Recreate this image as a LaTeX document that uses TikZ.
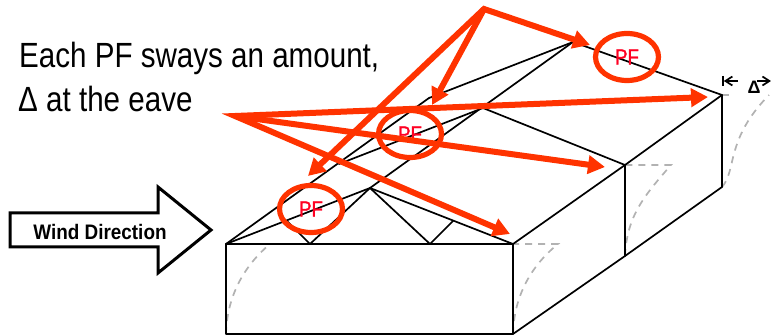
\documentclass[tikz,border=0pt]{standalone}
\usepackage{fontspec}
\setmainfont{Liberation Sans}
\newfontfamily\headf[FakeStretch=0.845]{Liberation Sans}
\newfontfamily\windf[FakeStretch=0.9]{Liberation Sans Bold}
\newfontfamily\pff[FakeStretch=0.85,FakeBold=1.2]{Liberation Sans}
\usetikzlibrary{arrows.meta,shapes.geometric}
\definecolor{redline}{HTML}{FF3300}
\definecolor{redtext}{HTML}{FF0022}
\tikzset{
  frameline/.style={draw=black,line width=1.7pt,line join=round,line cap=round},
  sway/.style={draw=black!30,line width=1.7pt,dash pattern=on 7pt off 6pt},
  pointer/.style={draw=redline,line width=6pt,line join=miter,miter limit=30,
    {Triangle[length=17pt,width=18pt,fill=redline]}-{Triangle[length=17pt,width=18pt,fill=redline]}},
  pointerone/.style={draw=redline,line width=6pt,
    -{Triangle[length=17pt,width=18pt,fill=redline]}},
  pfmark/.style={shape=ellipse,draw=redline,line width=5.2pt,minimum width=63pt,minimum height=47pt,
    inner sep=0pt,text=redtext,font=\pff\fontsize{22}{22}\selectfont},
  gaparrow/.style={draw=black,line width=1.7pt,-{Straight Barb[length=7pt,width=9pt,line width=1.7pt]}},
  headline/.style={anchor=west,inner sep=0pt,font=\headf\fontsize{35}{35}\selectfont},
}
\begin{document}
\begin{tikzpicture}[x=1pt,y=-1pt]
\useasboundingbox (0,0) rectangle (771,336);
% frame coordinates
\coordinate (fl) at (226,244); \coordinate (fa) at (370,188); \coordinate (fr) at (513,244);
\coordinate (fbl) at (226,334); \coordinate (fbr) at (513,334);
\coordinate (ml) at (339,164); \coordinate (ma) at (483,108); \coordinate (mr) at (625,165); \coordinate (mb) at (625,256);
\coordinate (bl) at (429,98); \coordinate (ba) at (573,42); \coordinate (br) at (722,95); \coordinate (bb) at (722,187);
\coordinate (wl) at (310,244); \coordinate (wls) at (287,221); \coordinate (wr) at (430,244); \coordinate (wrs) at (453,221);
% sway curves
\draw[sway] (fbl) .. controls (227,295) and (245,265) .. (270,244);
\draw[sway] (fbr) .. controls (514,295) and (532,265) .. (558,244) -- (fr);
\draw[sway] (mb) .. controls (627,215) and (645,195) .. (671,165) -- (mr);
\draw[sway] (bb) .. controls (737,170) and (725,140) .. (769,95);
\draw[sway] (br) -- (734,95);
% building
\draw[frameline] (fl) rectangle (fbr);
\draw[frameline] (fl) -- (fa) -- (fr);
\draw[frameline] (fa) -- (wl) -- (wls);
\draw[frameline] (fa) -- (wr) -- (wrs);
\draw[frameline] (fl) -- (bl);
\draw[frameline] (fa) -- (ba);
\draw[frameline] (ml) -- (ma) -- (mr) -- (mb);
\draw[frameline] (bl) -- (ba) -- (br) -- (bb);
\draw[frameline] (fr) -- (mr) -- (br);
\draw[frameline] (fbr) -- (mb) -- (bb);
% text
\node[headline] (line1) at (19,58) {Each PF sways an amount,};
\node[headline] (line2) at (18,99) {Δ at the eave};
% wind arrow
\draw[draw=black,line width=3pt,line join=miter,fill=white]
  (10,213) -- (158,213) -- (158,187) -- (211,230) -- (158,273) -- (158,247) -- (10,247) -- cycle;
\node[inner sep=0pt,font=\windf\fontsize{21}{21}\selectfont] (windtext) at (100,232) {Wind Direction};
% PF marks
\node[pfmark] (pf1) at (311,209) {PF};
\node[pfmark] (pf2) at (410,134) {PF};
\node[pfmark] (pf3) at (627,57) {PF};
% pointers
\coordinate (s1) at (484,9); \coordinate (s2) at (235,116);
\coordinate (t1) at (590,45); \coordinate (t2) at (432,105); \coordinate (t3) at (308,176);
\coordinate (t4) at (708,97); \coordinate (t5) at (605,167); \coordinate (t6) at (510,234);
\draw[pointer] (t3) -- (s1) -- (t1);
\draw[pointerone] (s1) -- (t2);
\draw[pointer] (t6) -- (s2) -- (t4);
\draw[pointerone] (s2) -- (t5);
% delta marker
\coordinate (g0) at (723,76); \coordinate (g1) at (723,86); \coordinate (g2) at (738,81);
\coordinate (g3) at (757,81); \coordinate (g4) at (771,81);
\draw[draw=black,line width=1.7pt] (g0) -- (g1);
\draw[gaparrow] (g2) -- (723.8,81);
\draw[gaparrow] (g3) -- (g4);
\node[inner sep=0pt,font=\bfseries\fontsize{18}{18}\selectfont] (deltalabel) at (754,87) {Δ};
\end{tikzpicture}
\end{document}
